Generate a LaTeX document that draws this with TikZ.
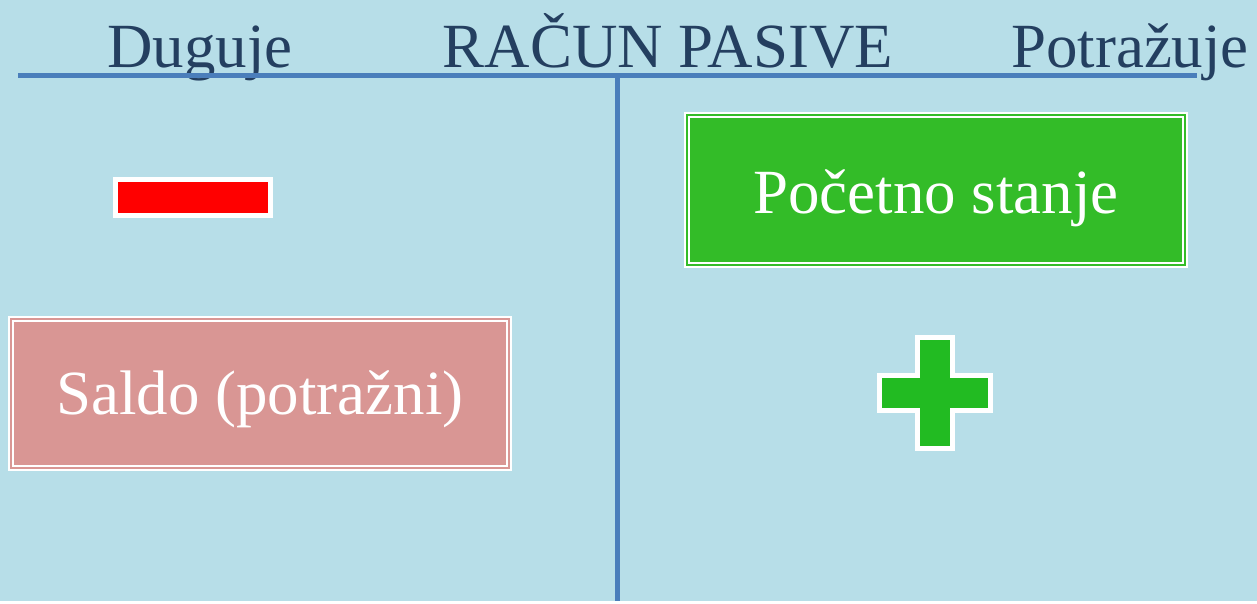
\documentclass[tikz,border=0pt]{standalone}
\usepackage{fontspec}
\setmainfont{Liberation Serif}

\definecolor{bgblue}{HTML}{B7DEE8}
\definecolor{lineblue}{HTML}{4A7EBB}
\definecolor{titleblue}{HTML}{243F60}
\definecolor{startgreen}{HTML}{33BC28}
\definecolor{saldopink}{HTML}{D99694}
\definecolor{plusgreen}{HTML}{22BB22}

\begin{document}
\begin{tikzpicture}
    [
        title/.style={anchor=base, text=titleblue, font=\fontsize{35.8}{40}\selectfont},
        tline/.style={lineblue, line width=2.85pt},
        card/.style={rectangle, draw=white, double distance=1.1pt, line width=1.1pt,
            minimum width=9.96cm, minimum height=2.99cm, inner sep=0pt,
            text height=32.2pt, text depth=6pt,
            text=white, font=\fontsize{35.8}{40}\selectfont},
        sign/.style={draw=white, line width=2.85pt},
    ]

    % background
    \fill [bgblue] (0,0) rectangle (25.14,12.02);

    % account heading
    \node (deb)  at (4.0,10.66)   [title] {Duguje};
    \node (name) at (13.36,10.66) [title] {RAČUN PASIVE};
    \node (cred) at (22.6,10.66)  [title] {Potražuje};

    % T lines
    \coordinate (tl) at (0.36,10.5);
    \coordinate (tr) at (23.94,10.5);
    \coordinate (tm) at (12.34,10.5);
    \coordinate (tb) at (12.34,0);
    \draw [tline] (tl) -- (tr);
    \draw [tline] (tm) -- (tb);

    % debit side
    \node (minus) at (3.86,8.07) [sign, rectangle, fill=red, minimum width=3.1cm,
        minimum height=0.72cm, inner sep=0pt] {};
    \node (saldo) at (5.2,4.15) [card, fill=saldopink, double=saldopink,
        text height=30.4pt] {Saldo (potražni)};

    % credit side
    \node (start) at (18.72,8.22) [card, fill=startgreen, double=startgreen] {Početno stanje};
    \draw [sign, fill=plusgreen, shift={(18.7,4.155)}]
        (-0.35,1.115) -- (0.35,1.115) -- (0.35,0.35) -- (1.11,0.35)
        -- (1.11,-0.35) -- (0.35,-0.35) -- (0.35,-1.115) -- (-0.35,-1.115)
        -- (-0.35,-0.35) -- (-1.11,-0.35) -- (-1.11,0.35) -- (-0.35,0.35) -- cycle;
\end{tikzpicture}
\end{document}
